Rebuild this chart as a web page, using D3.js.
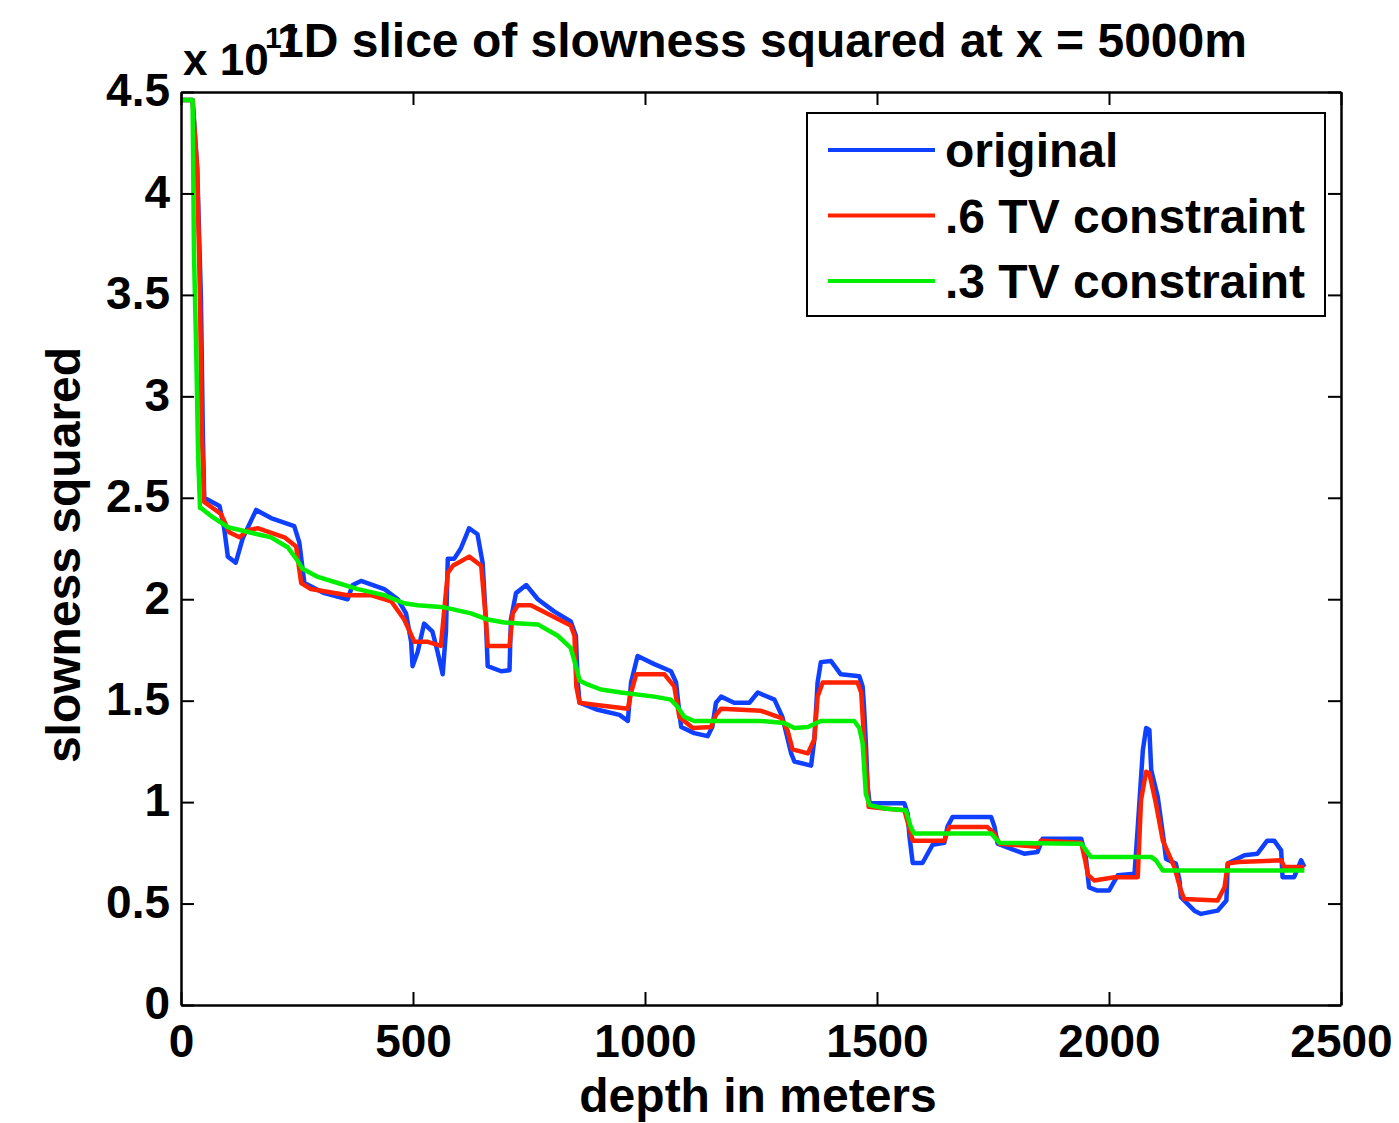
<!DOCTYPE html>
<html>
<head>
<meta charset="utf-8">
<script src="https://cdn.jsdelivr.net/npm/d3@7"></script>
<style>
  body { margin: 0; background: #fff; }
  text { font-family: "Liberation Sans", Arial, Helvetica, sans-serif; font-weight: bold; fill: #000; }
  .line { fill: none; stroke-width: 4.5; stroke-linejoin: round; }
</style>
</head>
<body>
<svg class="slice-chart"></svg>
<script>
var seriesNames = ["original", ".6 TV constraint", ".3 TV constraint"];
var seriesColors = ["#1040ff", "#ff2200", "#00ee00"];

var xTicks = [0, 500, 1000, 1500, 2000, 2500];
var yTicks = [0, 0.5, 1, 1.5, 2, 2.5, 3, 3.5, 4, 4.5];

var originalDepth = [0, 25, 35, 43, 47, 50, 83, 93, 101, 118, 133, 162, 194, 244, 255, 262, 266, 309, 359, 370,
  388, 438, 467, 485, 496, 499, 510, 524, 542, 553, 564, 571, 575, 589, 603, 621, 639, 650, 657, 661,
  690, 708, 711, 722, 744, 769, 804, 840, 851, 855, 859, 898, 945, 963, 970, 984, 1020, 1056, 1067, 1074,
  1078, 1106, 1135, 1145, 1153, 1164, 1192, 1225, 1243, 1279, 1296, 1315, 1322, 1358, 1365, 1372, 1379, 1401, 1422, 1462,
  1469, 1472, 1476, 1480, 1484, 1559, 1566, 1570, 1577, 1598, 1620, 1645, 1652, 1663, 1746, 1753, 1760, 1789, 1817, 1846,
  1857, 1940, 1950, 1957, 1975, 2000, 2019, 2055, 2062, 2073, 2080, 2087, 2091, 2105, 2116, 2123, 2144, 2152, 2155, 2184,
  2198, 2234, 2253, 2256, 2292, 2320, 2341, 2356, 2371, 2374, 2399, 2414, 2421];
var originalValue = [4.46, 4.46, 4.12, 3.48, 2.83, 2.50, 2.46, 2.35, 2.21, 2.18, 2.30, 2.44, 2.40, 2.36, 2.28, 2.15, 2.08, 2.03, 2.00, 2.07,
  2.09, 2.05, 2.00, 1.93, 1.79, 1.67, 1.74, 1.88, 1.84, 1.74, 1.63, 1.84, 2.20, 2.20, 2.25, 2.35, 2.32, 2.18, 1.90, 1.67,
  1.645, 1.65, 1.90, 2.03, 2.07, 2.00, 1.94, 1.89, 1.82, 1.59, 1.49, 1.455, 1.43, 1.40, 1.59, 1.72, 1.68, 1.645, 1.59, 1.44,
  1.37, 1.34, 1.325, 1.37, 1.49, 1.52, 1.49, 1.49, 1.54, 1.505, 1.42, 1.24, 1.20, 1.18, 1.31, 1.59, 1.69, 1.695, 1.63, 1.62,
  1.57, 1.47, 1.29, 1.076, 0.994, 0.994, 0.944, 0.83, 0.70, 0.70, 0.79, 0.80, 0.88, 0.927, 0.927, 0.88, 0.795, 0.77, 0.746, 0.754,
  0.82, 0.82, 0.73, 0.58, 0.564, 0.564, 0.64, 0.647, 0.877, 1.257, 1.365, 1.356, 1.158, 1.026, 0.845, 0.72, 0.697, 0.614, 0.531, 0.465,
  0.449, 0.465, 0.515, 0.697, 0.738, 0.746, 0.81, 0.81, 0.762, 0.63, 0.63, 0.713, 0.68];

var tv6Depth = [0, 25, 35, 41, 45, 50, 86, 104, 126, 144, 165, 223, 248, 259, 280, 359, 409, 453, 481, 503,
  532, 560, 575, 586, 621, 647, 657, 661, 708, 715, 726, 754, 840, 848, 852, 859, 891, 963, 970, 981,
  1042, 1063, 1074, 1103, 1142, 1153, 1164, 1250, 1293, 1307, 1318, 1351, 1365, 1372, 1383, 1458, 1466, 1472, 1480, 1482,
  1516, 1559, 1573, 1577, 1645, 1656, 1738, 1753, 1764, 1846, 1853, 1940, 1947, 1955, 1968, 2012, 2062, 2069, 2080, 2087,
  2101, 2116, 2141, 2155, 2162, 2234, 2249, 2256, 2278, 2371, 2378, 2421];
var tv6Value = [4.46, 4.46, 4.12, 3.47, 2.81, 2.48, 2.42, 2.33, 2.305, 2.34, 2.35, 2.305, 2.26, 2.08, 2.05, 2.02, 2.02, 1.99, 1.90, 1.79,
  1.79, 1.77, 2.13, 2.165, 2.21, 2.165, 1.90, 1.77, 1.77, 1.93, 1.97, 1.97, 1.87, 1.82, 1.57, 1.49, 1.48, 1.46, 1.54, 1.63,
  1.63, 1.57, 1.42, 1.365, 1.37, 1.43, 1.46, 1.45, 1.415, 1.355, 1.26, 1.24, 1.31, 1.52, 1.59, 1.59, 1.54, 1.31, 1.06, 0.977,
  0.969, 0.96, 0.845, 0.81, 0.81, 0.877, 0.877, 0.845, 0.795, 0.78, 0.81, 0.80, 0.73, 0.64, 0.614, 0.63, 0.63, 1.01, 1.15, 1.142,
  0.994, 0.81, 0.68, 0.564, 0.523, 0.515, 0.58, 0.697, 0.705, 0.713, 0.68, 0.68];

var tv3Depth = [0, 25, 28, 33, 37, 41, 43, 65, 101, 129, 165, 194, 230, 248, 262, 295, 338, 381, 438, 481,
  510, 567, 625, 661, 697, 769, 812, 840, 851, 859, 876, 905, 948, 1020, 1056, 1070, 1085, 1106, 1250, 1300,
  1322, 1351, 1379, 1451, 1462, 1469, 1476, 1484, 1516, 1562, 1573, 1580, 1746, 1764, 1940, 1961, 2091, 2101, 2116, 2421];
var tv3Value = [4.46, 4.46, 3.7, 3.2, 2.7, 2.45, 2.45, 2.41, 2.355, 2.34, 2.32, 2.305, 2.256, 2.20, 2.15, 2.11, 2.08, 2.05, 2.02, 1.98,
  1.97, 1.96, 1.93, 1.90, 1.885, 1.876, 1.82, 1.76, 1.67, 1.60, 1.58, 1.555, 1.54, 1.52, 1.505, 1.47, 1.42, 1.40, 1.40, 1.39,
  1.365, 1.37, 1.40, 1.40, 1.365, 1.29, 1.04, 0.985, 0.969, 0.96, 0.877, 0.845, 0.845, 0.80, 0.795, 0.73, 0.73, 0.713, 0.663, 0.663];

drawSlice();

function drawSlice() {
  var width = 1399;
  var height = 1123;
  var plot = {left: 181, right: 1341, top: 92, bottom: 1005};

  var svg = d3.select(".slice-chart")
    .attr("width", width)
    .attr("height", height);

  svg.append("rect")
    .attr("width", width)
    .attr("height", height)
    .attr("fill", "#fff");

  var x = d3.scaleLinear().domain([0, 2500]).range([plot.left, plot.right]);
  var y = d3.scaleLinear().domain([0, 4.5]).range([plot.bottom, plot.top]);

  var series = [
    {depth: originalDepth, value: originalValue},
    {depth: tv6Depth, value: tv6Value},
    {depth: tv3Depth, value: tv3Value}
  ];

  var valueline = d3.line()
    .x(function(d) { return x(d[0]); })
    .y(function(d) { return y(d[1]); });

  series.forEach(function(s, i) {
    var pts = s.depth.map(function(d, j) { return [d, s.value[j]]; });
    svg.append("path")
      .datum(pts)
      .attr("class", "line")
      .attr("stroke", seriesColors[i])
      .attr("d", valueline);
  });

  // axes, ticks pointing inward on all four sides
  svg.append("g")
    .attr("transform", "translate(0," + plot.bottom + ")")
    .call(d3.axisBottom(x).tickValues(xTicks).tickSizeInner(-13).tickSizeOuter(0).tickPadding(19)
      .tickFormat(d3.format("d")));

  svg.append("g")
    .attr("transform", "translate(0," + plot.top + ")")
    .call(d3.axisTop(x).tickValues(xTicks).tickSizeInner(-13).tickSizeOuter(0).tickFormat(""));

  var leftAxis = svg.append("g")
    .attr("transform", "translate(" + plot.left + ",0)")
    .call(d3.axisLeft(y).tickValues(yTicks).tickSizeInner(-13).tickSizeOuter(0).tickPadding(11)
      .tickFormat(d3.format("~g")));

  svg.append("g")
    .attr("transform", "translate(" + plot.right + ",0)")
    .call(d3.axisRight(y).tickValues(yTicks).tickSizeInner(-13).tickSizeOuter(0).tickFormat(""));

  svg.selectAll(".domain").attr("stroke", "#000").attr("stroke-width", 2.5);
  svg.selectAll(".tick line").attr("stroke", "#000").attr("stroke-width", 2);
  svg.selectAll(".tick text")
    .attr("font-family", "Liberation Sans, Arial, sans-serif")
    .attr("font-weight", "bold")
    .attr("font-size", 46)
    .attr("fill", "#000");
  leftAxis.selectAll(".tick text").attr("dy", "0.3em");

  // exponent label
  svg.append("text")
    .attr("x", 183)
    .attr("y", 75)
    .style("font-size", "44px")
    .text("x 10");
  svg.append("text")
    .attr("x", 265)
    .attr("y", 48)
    .style("font-size", "30px")
    .text("17");

  svg.append("text")
    .attr("class", "chart-title")
    .attr("x", 762)
    .attr("y", 57)
    .attr("text-anchor", "middle")
    .style("font-size", "48px")
    .text("1D slice of slowness squared at x = 5000m");

  svg.append("text")
    .attr("class", "axis-label")
    .attr("x", 758)
    .attr("y", 1112)
    .attr("text-anchor", "middle")
    .style("font-size", "48px")
    .text("depth in meters");

  svg.append("text")
    .attr("class", "axis-label")
    .attr("transform", "translate(80,555) rotate(-90)")
    .attr("text-anchor", "middle")
    .style("font-size", "48px")
    .text("slowness squared");

  // legend
  var legend = svg.append("g").attr("transform", "translate(807,113)");
  legend.append("rect")
    .attr("width", 518)
    .attr("height", 203)
    .attr("fill", "#fff")
    .attr("stroke", "#000")
    .attr("stroke-width", 2);

  seriesNames.forEach(function(name, i) {
    var row = legend.append("g").attr("transform", "translate(0," + (37 + i * 65.5) + ")");
    row.append("line")
      .attr("x1", 21)
      .attr("x2", 128)
      .attr("stroke", seriesColors[i])
      .attr("stroke-width", 4);
    row.append("text")
      .attr("x", 138)
      .attr("y", 17)
      .style("font-size", "48px")
      .text(name);
  });
}
</script>
</body>
</html>
